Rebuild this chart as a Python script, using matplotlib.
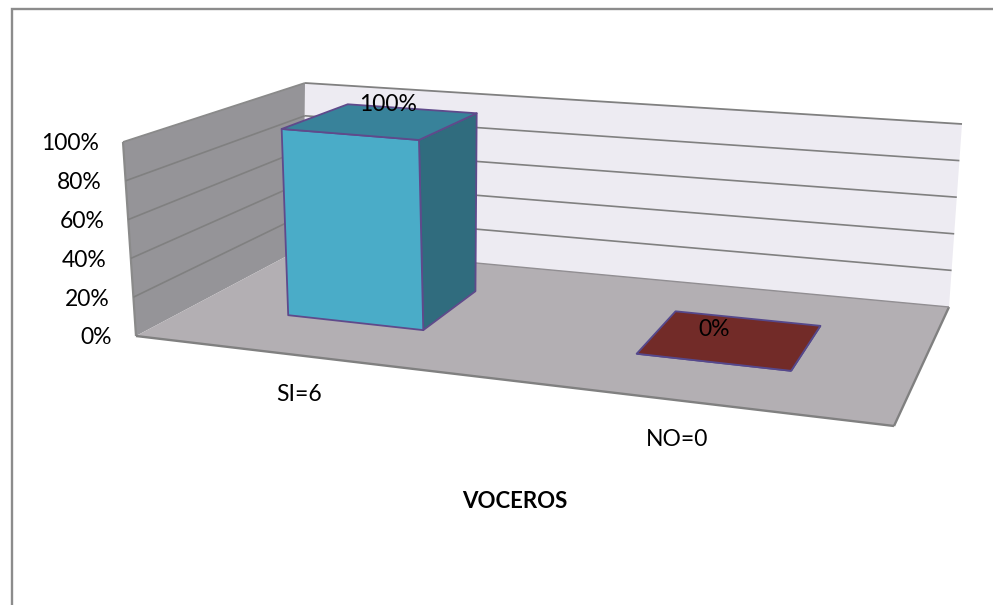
import matplotlib
matplotlib.use("Agg")
import matplotlib.pyplot as plt
from matplotlib.patches import Polygon

plt.rcParams['font.family'] = ['Lato', 'DejaVu Sans']

# Chart data
categories = ["SI=6", "NO=0"]
shares = [1.0, 0.0]
axis_ticks = [0.0, 0.2, 0.4, 0.6, 0.8, 1.0]
axis_title = "VOCEROS"

# Box layout in canvas pixels: (width fraction, depth fraction, height fraction)
BOX = {
    (0, 0, 0): (136, 336), (1, 0, 0): (894, 426),
    (0, 1, 0): (304, 247), (1, 1, 0): (949, 307),
    (0, 0, 1): (123, 142), (1, 0, 1): (893, 210),
    (0, 1, 1): (305, 83),  (1, 1, 1): (962, 124),
}
BAR_SPANS = [(0.13, 0.318), (0.615, 0.83)]
BAR_DEPTH = (0.35, 0.745)
BAR_COLORS = [
    {"front": "#4aacc8", "side": "#306c7e", "top": "#38829a"},
    {"front": "#722b28", "side": "#5a2220", "top": "#722b28"},
]
EDGE_COLORS = ["#5f4a8b", "#55488c"]
LABEL_ANCHORS = [0.31, 0.268]
GRID = "#808080"
FONT_SIZE = 16.5


def project(u, d, v):
    """Trilinear mapping from box coordinates to canvas pixels."""
    x = y = 0.0
    for (i, j, k), (px, py) in BOX.items():
        w = (u if i else 1 - u) * (d if j else 1 - d) * (v if k else 1 - v)
        x += w * px
        y += w * py
    return x, y


def face(ax, pts, fc, ec="none", lw=0.0, z=1):
    ax.add_patch(Polygon([project(*p) for p in pts], closed=True, facecolor=fc,
                         edgecolor=ec, linewidth=lw, joinstyle="round", zorder=z))


def line(ax, a, b, color=GRID, lw=1.3, z=2):
    xa, ya = project(*a)
    xb, yb = project(*b)
    ax.plot([xa, xb], [ya, yb], color=color, lw=lw, zorder=z, solid_capstyle="butt")


fig = plt.figure(figsize=(9.93, 6.05), dpi=100, facecolor="white")
ax = fig.add_axes([0, 0, 1, 1])
ax.set_xlim(0, 993)
ax.set_ylim(605, 0)
ax.axis("off")

# Chart area frame (runs off the right and bottom of the canvas)
ax.plot([11.5, 11.5, 993], [605, 8.5, 8.5], color="#8c8c8c", lw=1.7, zorder=1,
        solid_joinstyle="miter")

# Walls
face(ax, [(0, 0, 0), (0, 1, 0), (0, 1, 1), (0, 0, 1)], "#959498", z=1)
face(ax, [(0, 1, 0), (1, 1, 0), (1, 1, 1), (0, 1, 1)], "#edebf2", z=1)
line(ax, (0, 0, 0), (0, 0, 1), color="#8a8a8a", lw=1.6)
line(ax, (0, 0, 1), (0, 1, 1), color="#8a8a8a", lw=1.3)
line(ax, (0, 1, 1), (1, 1, 1), color=GRID, lw=1.3)

# Gridlines along both walls
for t in axis_ticks[1:-1]:
    line(ax, (0, 0, t), (0, 1, t), lw=1.2)
    line(ax, (0, 1, t), (1, 1, t), lw=1.2)

# Floor
face(ax, [(0, 0, 0), (1, 0, 0), (1, 1, 0), (0, 1, 0)], "#b3afb3", z=3)
line(ax, (0, 0, 0), (1, 0, 0), color=GRID, lw=1.7, z=4)
line(ax, (1, 0, 0), (1, 1, 0), color=GRID, lw=1.7, z=4)
line(ax, (0, 1, 0), (1, 1, 0), color="#918e92", lw=1.0, z=4)

# Bars
d0, d1 = BAR_DEPTH
for value, (u0, u1), colors, edge in zip(shares, BAR_SPANS, BAR_COLORS, EDGE_COLORS):
    face(ax, [(u1, d0, 0), (u1, d1, 0), (u1, d1, value), (u1, d0, value)],
         colors["side"], edge, 1.3, z=5)
    face(ax, [(u0, d0, 0), (u1, d0, 0), (u1, d0, value), (u0, d0, value)],
         colors["front"], edge, 1.3, z=6)
    face(ax, [(u0, d0, value), (u1, d0, value), (u1, d1, value), (u0, d1, value)],
         colors["top"], edge, 1.3, z=7)

# Value labels sit on the bar tops
for value, (u0, u1), anchor in zip(shares, BAR_SPANS, LABEL_ANCHORS):
    x, y = project(u0 + anchor * (u1 - u0), d1, value)
    ax.text(x, y - 3 if value else y + 14, f"{value:.0%}", ha="center", va="center",
            fontsize=FONT_SIZE, color="black", zorder=9)

# Value axis labels follow the slant of the wall's front edge
for t in axis_ticks:
    x, y = project(0, 0, t)
    ax.text(x - 24, y + 2, f"{t:.0%}", ha="right", va="center", fontsize=FONT_SIZE,
            color="black", zorder=9)

# Category labels below the front edge
for name, (u0, u1) in zip(categories, BAR_SPANS):
    x, y = project((u0 + u1) / 2, 0, 0)
    ax.text(x - 7, y + 38.5, name, ha="center", va="center", fontsize=FONT_SIZE,
            color="black", zorder=9)

ax.text(515, 501, axis_title, ha="center", va="center", fontsize=16.0,
        fontweight="bold", color="black", zorder=9)

fig.savefig("out.png", dpi=100, facecolor="white")
